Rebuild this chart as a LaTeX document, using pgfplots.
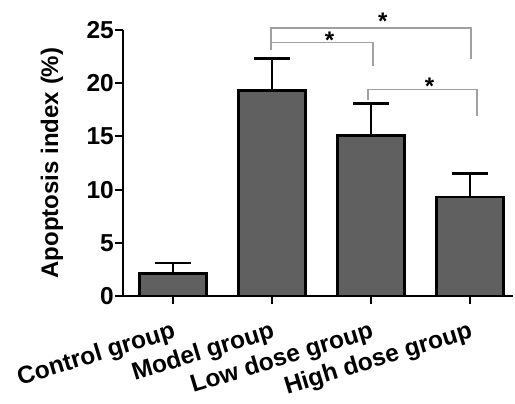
\documentclass[border=0pt]{standalone}
\usepackage{fontspec}
\setmainfont{Liberation Sans}
\usepackage{pgfplots}
\pgfplotsset{compat=1.18}
\definecolor{barg}{HTML}{606060}
\definecolor{brk}{HTML}{A0A0A0}
\begin{document}
\begin{tikzpicture}
\begin{axis}[
  at={(0,0)}, anchor=south west,
  scale only axis, width=390pt, height=266pt,
  xmin=-0.505, xmax=3.434, ymin=0, ymax=25,
  axis lines*=left,
  axis line style={line width=2pt},
  tick style={line width=2pt, black},
  tick align=outside, major tick length=8pt,
  xtick={0,1,2,3},
  xticklabels={Control group, Model group, Low dose group, High dose group},
  ytick={0,5,10,15,20,25},
  /pgf/number format/assume math mode=true,
  ticklabel style={font=\bfseries\fontsize{24.5}{24.5}\selectfont},
  yticklabel style={inner sep=0pt, xshift=-1pt},
  xticklabel style={yshift=-15pt, xshift=-1pt, rotate=17, anchor=north east, inner sep=1pt},
  ylabel={Apoptosis index (\%)},
  ylabel style={font=\bfseries\fontsize{24}{24}\selectfont, at={(axis description cs:-0.182,0.5)}, anchor=center},
  clip=false,
]
\addplot[ybar, bar width=67pt, bar shift=0pt, fill=barg, draw=black, line width=2.5pt,
  error bars/.cd, y dir=plus, y explicit,
  error bar style={line width=2.5pt, black},
  error mark options={rotate=90, mark size=18pt, line width=2.5pt, black}]
  coordinates {(0,2.1) +- (0,1.0) (1,19.3) +- (0,3.0) (2,15.1) +- (0,3.0) (3,9.3) +- (0,2.2)};
\addplot[brk, line width=1.3pt, no marks] coordinates {(0.99,23.1) (0.99,25.2) (3.01,25.2) (3.01,22.3)};
\addplot[brk, line width=1.3pt, no marks] coordinates {(0.99,23.8) (2.02,23.8) (2.02,21.6)};
\addplot[brk, line width=1.3pt, no marks] coordinates {(1.97,18.4) (1.97,19.4) (3.07,19.4) (3.07,16.9)};
\node[anchor=north, inner sep=0pt, font=\bfseries\fontsize{24}{24}\selectfont] at (axis cs:2.12,26.6) {*};
\node[anchor=north, inner sep=0pt, font=\bfseries\fontsize{24}{24}\selectfont] at (axis cs:1.58,24.8) {*};
\node[anchor=north, inner sep=0pt, font=\bfseries\fontsize{24}{24}\selectfont] at (axis cs:2.59,20.5) {*};
\end{axis}
\pgfresetboundingbox
\path (-123pt,-108pt) rectangle (392pt,296pt);
\end{tikzpicture}
\end{document}
